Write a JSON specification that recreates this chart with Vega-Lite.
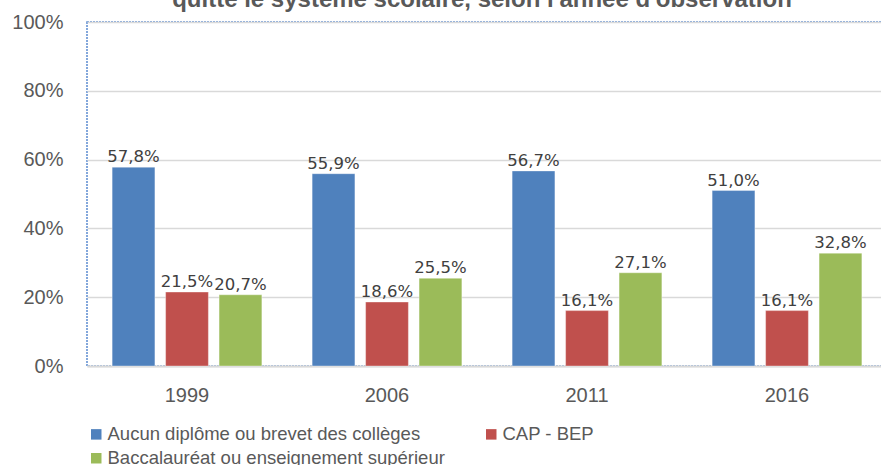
{
  "$schema": "https://vega.github.io/schema/vega-lite/v6.json",
  "autosize": {"type": "none"},
  "padding": {"left": 87, "top": 22, "right": 0, "bottom": 99},
  "width": 800,
  "height": 344,
  "background": "white",
  "title": {
    "text": "quitte le système scolaire, selon l'année d'observation",
    "frame": "group",
    "anchor": "middle",
    "baseline": "alphabetic",
    "offset": 6,
    "dy": 25,
    "dx": -5,
    "font": "Liberation Sans",
    "fontSize": 24,
    "fontWeight": "bold",
    "color": "#595959"
  },
  "config": {
    "locale": {"number": {"decimal": ",", "thousands": " ", "grouping": [3], "currency": ["", " €"]}},
    "view": {"stroke": "#5b8bd0", "strokeWidth": 1.5, "strokeDash": [2, 1]},
    "axis": {"labelFont": "Liberation Sans", "labelFontSize": 20, "labelColor": "#595959", "ticks": false, "tickSize": 0, "title": null, "labelOverlap": false}
  },
  "data": {
    "values": [
      {"annee": "1999", "serie": "Aucun diplôme ou brevet des collèges", "valeur": 0.578},
      {"annee": "1999", "serie": "CAP - BEP", "valeur": 0.215},
      {"annee": "1999", "serie": "Baccalauréat ou enseignement supérieur", "valeur": 0.207},
      {"annee": "2006", "serie": "Aucun diplôme ou brevet des collèges", "valeur": 0.559},
      {"annee": "2006", "serie": "CAP - BEP", "valeur": 0.186},
      {"annee": "2006", "serie": "Baccalauréat ou enseignement supérieur", "valeur": 0.255},
      {"annee": "2011", "serie": "Aucun diplôme ou brevet des collèges", "valeur": 0.567},
      {"annee": "2011", "serie": "CAP - BEP", "valeur": 0.161},
      {"annee": "2011", "serie": "Baccalauréat ou enseignement supérieur", "valeur": 0.271},
      {"annee": "2016", "serie": "Aucun diplôme ou brevet des collèges", "valeur": 0.510},
      {"annee": "2016", "serie": "CAP - BEP", "valeur": 0.161},
      {"annee": "2016", "serie": "Baccalauréat ou enseignement supérieur", "valeur": 0.328}
    ]
  },
  "encoding": {
    "x": {
      "field": "annee", "type": "nominal", "sort": null,
      "scale": {"paddingInner": 0, "paddingOuter": 0},
      "axis": {"labelAngle": 0, "labelPadding": 19, "domain": true, "domainColor": "#d9d9d9", "domainWidth": 2, "grid": false}
    },
    "xOffset": {
      "field": "serie", "type": "nominal",
      "sort": ["Aucun diplôme ou brevet des collèges", "CAP - BEP", "Baccalauréat ou enseignement supérieur"],
      "scale": {"paddingInner": 0.2, "paddingOuter": 0.47}
    },
    "y": {
      "field": "valeur", "type": "quantitative",
      "scale": {"domain": [0, 1], "nice": false},
      "axis": {"format": ".0%", "values": [0, 0.2, 0.4, 0.6, 0.8, 1], "domain": false, "grid": true, "gridColor": "#d9d9d9", "gridWidth": 1.6, "labelPadding": 24}
    }
  },
  "layer": [
    {
      "mark": {"type": "bar", "stroke": "#ffffff", "strokeWidth": 0.6, "strokeOpacity": 0.6},
      "encoding": {
        "color": {
          "field": "serie", "type": "nominal",
          "scale": {
            "domain": ["Aucun diplôme ou brevet des collèges", "CAP - BEP", "Baccalauréat ou enseignement supérieur"],
            "range": ["#4f81bd", "#c0504d", "#9bbb59"]
          },
          "legend": {
            "title": null,
            "orient": "none",
            "legendX": 0,
            "legendY": 403,
            "direction": "horizontal",
            "columns": 2,
            "columnPadding": 37,
            "rowPadding": 5,
            "padding": 0,
            "symbolType": "square",
            "symbolSize": 110,
            "symbolStrokeWidth": 0,
            "symbolOpacity": 1,
            "labelOffset": 2,
            "labelFont": "Liberation Sans",
            "labelFontSize": 18.5,
            "labelColor": "#595959",
            "labelLimit": 500
          }
        }
      }
    },
    {
      "mark": {"type": "text", "baseline": "alphabetic", "dy": -5, "font": "DejaVu Sans", "fontSize": 16.5, "color": "#404040"},
      "encoding": {
        "text": {"field": "valeur", "type": "quantitative", "format": ".1%"}
      }
    }
  ]
}
